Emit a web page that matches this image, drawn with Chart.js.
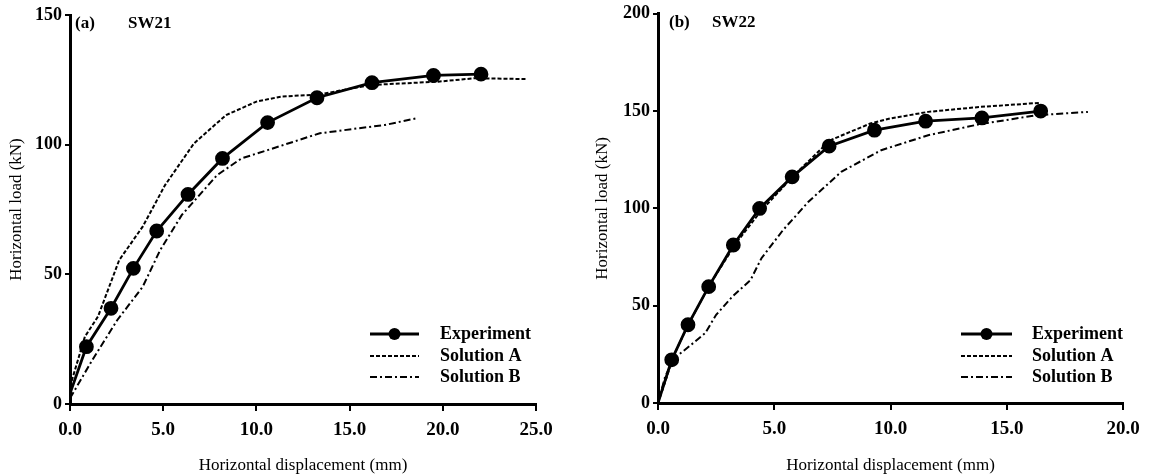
<!DOCTYPE html>
<html>
<head>
<meta charset="utf-8">
<script src="https://cdn.jsdelivr.net/npm/chart.js@4.4.1/dist/chart.umd.min.js"></script>
<style>
  body { margin: 0; background: #fff; }
  .panel { position: absolute; top: 0; height: 476px; }
  #p1 { left: 0; width: 574px; }
  #p2 { left: 580px; width: 569px; }
</style>
</head>
<body>
<div class="panel" id="p1"><canvas id="sw21"></canvas></div>
<div class="panel" id="p2"><canvas id="sw22"></canvas></div>
<script>
// SW21 (a)
const sw21ExpX = [0, 0.88, 2.2, 3.4, 4.65, 6.33, 8.18, 10.6, 13.25, 16.2, 19.5, 22.05];
const sw21ExpY = [4, 22.1, 36.9, 52.3, 66.7, 80.8, 94.7, 108.5, 118.1, 123.9, 126.7, 127.2];
const sw21AX = [0, 0.8, 1.5, 2.64, 3.9, 5.1, 6.65, 8.37, 10, 11.3, 13.4, 16.1, 19.75, 21.7, 24.5];
const sw21AY = [6.7, 26, 33.7, 55.5, 68.4, 84.4, 100.5, 111.4, 116.6, 118.5, 119.4, 123, 124.3, 125.6, 125.3];
const sw21BX = [0, 1.2, 2.54, 3.9, 4.84, 6, 7.9, 9.2, 10.6, 13.4, 16.9, 18.6];
const sw21BY = [2.2, 17, 32.4, 45.2, 59.4, 72.9, 88.3, 94.7, 97.9, 104.4, 107.6, 110.2];

// SW22 (b)
const sw22ExpX = [0, 0.59, 1.29, 2.18, 3.24, 4.37, 5.77, 7.36, 9.31, 11.51, 13.93, 16.46];
const sw22ExpY = [0, 22.2, 40.2, 59.8, 81.2, 100, 116.2, 132, 140.2, 144.8, 146.5, 150];
const sw22AX = [0, 0.39, 0.62, 1.33, 2.26, 3.35, 4.45, 5.85, 7.4, 9.13, 9.98, 11.62, 13.8, 16.38];
const sw22AY = [0, 13.7, 23, 41, 61.5, 82, 99, 117, 135, 143.6, 146.2, 149.6, 152.1, 154.2];
const sw22BX = [0, 0.31, 0.7, 1.33, 2.03, 2.5, 3.2, 3.98, 4.45, 5.38, 6.47, 7.88, 9.6, 11.62, 13.8, 16.3, 18.49];
const sw22BY = [0, 13.7, 23, 29, 35.9, 45.3, 54.7, 63.2, 74.4, 88.9, 103.4, 118.8, 129.9, 137.6, 143.2, 147.9, 149.6];

const seriesNames = ["Experiment", "Solution A", "Solution B"];
const xTitle = "Horizontal displacement (mm)";
const yTitle = "Horizontal load (kN)";

const serif = "'Liberation Serif', 'Times New Roman', serif";

function pts(xs, ys) {
    return xs.map((x, i) => ({ x: x, y: ys[i] }));
}

// draws the panel label and the legend inside the plot
const overlay = {
    id: "overlay",
    afterDraw(chart, args, opts) {
        const ctx = chart.ctx;
        ctx.save();
        ctx.fillStyle = "#000";
        ctx.textBaseline = "middle";
        ctx.font = "bold 17px " + serif;
        ctx.fillText(opts.tag, opts.tagX, opts.tagY);
        ctx.fillText(opts.name, opts.nameX, opts.tagY);

        chart.data.datasets.forEach((ds, i) => {
            const y = opts.rowY[i];
            ctx.strokeStyle = "#000";
            ctx.lineWidth = ds.borderWidth;
            ctx.setLineDash(ds.borderDash || []);
            ctx.beginPath();
            ctx.moveTo(opts.lineX0, y);
            ctx.lineTo(opts.lineX1, y);
            ctx.stroke();
            ctx.setLineDash([]);
            if (i === 0) {
                ctx.beginPath();
                ctx.arc((opts.lineX0 + opts.lineX1) / 2, y, 6, 0, Math.PI * 2);
                ctx.fill();
            }
            ctx.font = "bold 18px " + serif;
            ctx.fillText(ds.label, opts.textX, y);
        });
        ctx.restore();
    }
};

function makeChart(id, d) {
    return new Chart(document.getElementById(id), {
        type: "line",
        data: {
            datasets: [{
                label: seriesNames[0],
                data: pts(d.expX, d.expY),
                borderColor: "#000",
                backgroundColor: "#000",
                borderWidth: 2.8,
                pointRadius: c => c.dataIndex === 0 ? 0 : 6,
                pointHoverRadius: 0
            }, {
                label: seriesNames[1],
                data: pts(d.aX, d.aY),
                borderColor: "#000",
                borderWidth: 2,
                borderDash: [4, 2],
                pointRadius: 0
            }, {
                label: seriesNames[2],
                data: pts(d.bX, d.bY),
                borderColor: "#000",
                borderWidth: 2,
                borderDash: [7, 3, 2, 3],
                pointRadius: 0
            }]
        },
        options: {
            responsive: true,
            maintainAspectRatio: false,
            animation: false,
            layout: { padding: { left: 0, right: d.padRight, top: d.padTop, bottom: 0 } },
            plugins: {
                legend: { display: false },
                tooltip: { enabled: false },
                overlay: d.overlay
            },
            scales: {
                x: {
                    type: "linear",
                    min: 0,
                    max: d.xMax,
                    ticks: {
                        stepSize: 5,
                        color: "#000",
                        font: { family: serif, size: 19, weight: "bold" },
                        padding: 8,
                        callback: v => v.toFixed(1)
                    },
                    grid: { drawOnChartArea: false, drawTicks: true, tickLength: 7, color: "#000", lineWidth: 2 },
                    border: { display: true, color: "#000", width: 3 },
                    title: {
                        display: true,
                        text: xTitle,
                        color: "#000",
                        font: { family: serif, size: 17 },
                        padding: { top: 0, bottom: 0 }
                    },
                    afterFit: s => { s.height = d.xAxisH; }
                },
                y: {
                    min: 0,
                    max: d.yMax,
                    ticks: {
                        stepSize: 50,
                        color: "#000",
                        font: { family: serif, size: 18, weight: "bold" },
                        padding: 3
                    },
                    grid: { drawOnChartArea: false, drawTicks: true, tickLength: 5, color: "#000", lineWidth: 2 },
                    border: { display: true, color: "#000", width: 3 },
                    title: {
                        display: true,
                        text: yTitle,
                        color: "#000",
                        font: { family: serif, size: 17 },
                        padding: { top: d.yTitlePad, bottom: 0 }
                    },
                    afterFit: s => { s.width = d.yAxisW; }
                }
            }
        },
        plugins: [overlay]
    });
}

makeChart("sw21", {
    expX: sw21ExpX, expY: sw21ExpY, aX: sw21AX, aY: sw21AY, bX: sw21BX, bY: sw21BY,
    xMax: 25, yMax: 150,
    padRight: 38, padTop: 15, xAxisH: 72, yAxisW: 70, yTitlePad: 6,
    overlay: { tag: "(a)", name: "SW21", tagX: 75, nameX: 128, tagY: 24,
               lineX0: 370, lineX1: 419, textX: 440, rowY: [334, 356, 377] }
});

makeChart("sw22", {
    expX: sw22ExpX, expY: sw22ExpY, aX: sw22AX, aY: sw22AY, bX: sw22BX, bY: sw22BY,
    xMax: 20, yMax: 200,
    padRight: 26, padTop: 13, xAxisH: 73, yAxisW: 78, yTitlePad: 12,
    overlay: { tag: "(b)", name: "SW22", tagX: 89, nameX: 132, tagY: 23,
               lineX0: 381, lineX1: 432, textX: 452, rowY: [334, 356, 377] }
});
</script>
</body>
</html>
